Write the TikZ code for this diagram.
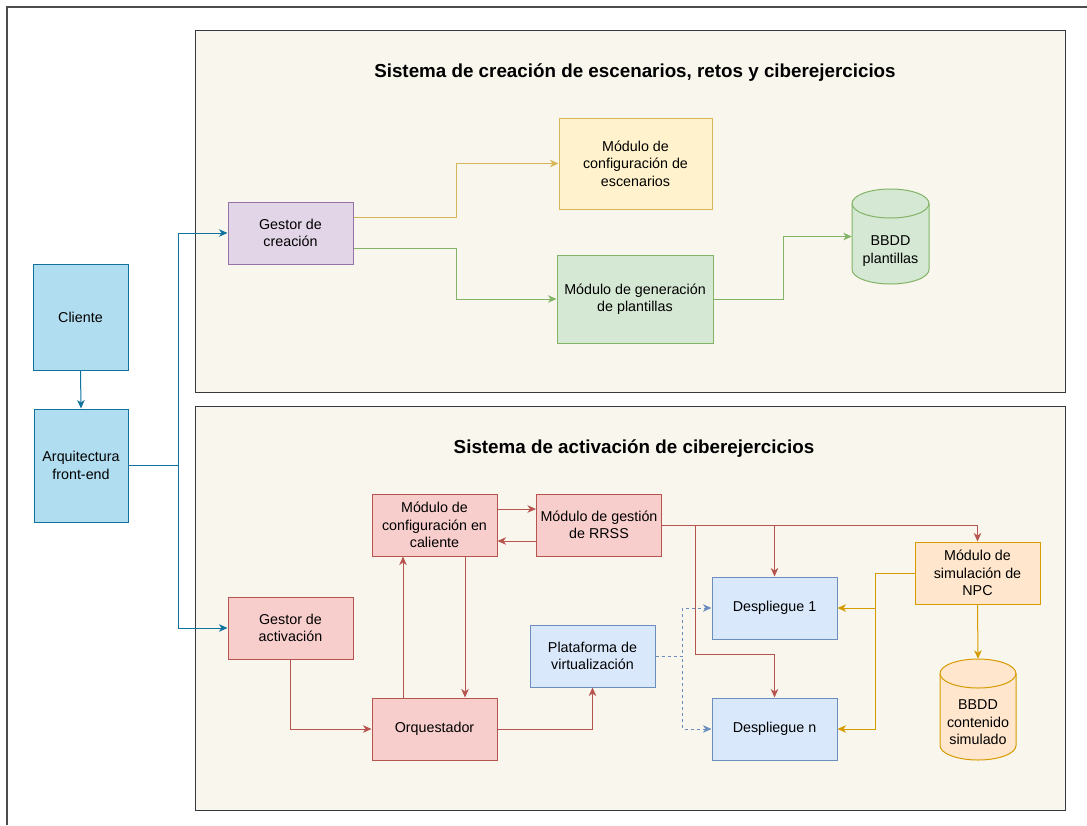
\documentclass[tikz,border=0pt]{standalone}
\usepackage{fontspec}
\setmainfont{Liberation Sans}
\usetikzlibrary{arrows.meta,calc}
\definecolor{panelfill}{HTML}{F9F7ED}
\definecolor{panelline}{HTML}{36393D}
\definecolor{bluefill}{HTML}{B1DDF0}
\definecolor{blueline}{HTML}{10739E}
\definecolor{purplefill}{HTML}{E1D5E7}
\definecolor{purpleline}{HTML}{9673A6}
\definecolor{yellowfill}{HTML}{FFF2CC}
\definecolor{yellowline}{HTML}{D6B656}
\definecolor{greenfill}{HTML}{D5E8D4}
\definecolor{greenline}{HTML}{82B366}
\definecolor{redfill}{HTML}{F8CECC}
\definecolor{redline}{HTML}{B85450}
\definecolor{lbluefill}{HTML}{DAE8FC}
\definecolor{lblueline}{HTML}{6C8EBF}
\definecolor{orangefill}{HTML}{FFE6CC}
\definecolor{orangeline}{HTML}{D79B00}
\tikzset{
  box/.style={draw, line width=1pt, align=center, inner sep=0pt,
    font=\fontsize{14.3}{17.5}\selectfont},
  cylbox/.style={inner sep=0pt},
  cyltext/.style={inner sep=0pt, align=center, font=\fontsize{14.3}{17.5}\selectfont},
  conn/.style={line width=1pt, -{Stealth[length=8.5pt,width=7.5pt,inset=2.5pt]}},
  panel/.style={draw=panelline, fill=panelfill, line width=1pt},
  title/.style={font=\fontsize{18.8}{22}\selectfont\bfseries}
}
\begin{document}
\begin{tikzpicture}[x=1pt,y=-1pt]
\useasboundingbox (0,0) rectangle (1087,825);
% outer frame (clipped)
\draw[line width=1.3pt, draw=black!70] (7,825) -- (7,7) -- (1087,7);
% panels
\draw[panel] (195,30) rectangle (1065,392);
\draw[panel] (195,406) rectangle (1065,810);
\node[title] (t1) at (635,73) {Sistema de creación de escenarios, retos y ciberejercicios};
\node[title] (t2) at (634,449) {Sistema de activación de ciberejercicios};

% left nodes
\node[box, fill=bluefill, draw=blueline, minimum width=95, minimum height=106] (cli) at (80.5,317) {Cliente};
\node[box, fill=bluefill, draw=blueline, minimum width=94, minimum height=113] (arq) at (81,465.5) {Arquitectura\\front-end};

% top panel
\node[box, fill=purplefill, draw=purpleline, minimum width=125, minimum height=62] (gcre) at (290.5,233) {Gestor de\\creación};
\node[box, fill=yellowfill, draw=yellowline, minimum width=153, minimum height=91] (mesc) at (635.5,163.5) {Módulo de\\configuración de\\escenarios};
\node[box, fill=greenfill, draw=greenline, minimum width=156, minimum height=88] (mgen) at (635,299) {Módulo de generación\\de plantillas};
% cylinder 1
\path[fill=greenfill, draw=greenline, line width=1pt]
  (852,203.5) -- (852,269.5) arc[start angle=180,end angle=360,x radius=38.5pt,y radius=14.5pt]
  -- (929,203.5) arc[start angle=0,end angle=180,x radius=38.5pt,y radius=14.5pt] -- cycle;
\draw[greenline, line width=1pt] (852,203.5) arc[start angle=180,end angle=360,x radius=38.5pt,y radius=14.5pt];
\node[cylbox, minimum width=77, minimum height=95] (bd1) at (890.5,236.5) {};
\node[cyltext] (bd1t) at (890.5,251) {BBDD\\plantillas};

% bottom panel
\node[box, fill=redfill, draw=redline, minimum width=125, minimum height=62] (gact) at (290.5,628) {Gestor de\\activación};
\node[box, fill=redfill, draw=redline, minimum width=125, minimum height=62] (orq) at (434.5,729) {Orquestador};
\node[box, fill=redfill, draw=redline, minimum width=125, minimum height=62] (mcal) at (434.5,525) {Módulo de\\configuración en\\caliente};
\node[box, fill=redfill, draw=redline, minimum width=125, minimum height=62] (rrss) at (599,525) {Módulo de gestión\\de RRSS};
\node[box, fill=lbluefill, draw=lblueline, minimum width=125, minimum height=62] (plat) at (592.5,656) {Plataforma de\\virtualización};
\node[box, fill=lbluefill, draw=lblueline, minimum width=125, minimum height=62] (d1) at (774.5,608) {Despliegue 1};
\node[box, fill=lbluefill, draw=lblueline, minimum width=125, minimum height=62] (dn) at (774.5,729) {Despliegue n};
\node[box, fill=orangefill, draw=orangeline, minimum width=125, minimum height=62] (npc) at (977.5,573) {Módulo de\\simulación de\\NPC};
% cylinder 2
\path[fill=orangefill, draw=orangeline, line width=1pt]
  (940,673.5) -- (940,745.5) arc[start angle=180,end angle=360,x radius=38pt,y radius=14.5pt]
  -- (1016,673.5) arc[start angle=0,end angle=180,x radius=38pt,y radius=14.5pt] -- cycle;
\draw[orangeline, line width=1pt] (940,673.5) arc[start angle=180,end angle=360,x radius=38pt,y radius=14.5pt];
\node[cylbox, minimum width=76, minimum height=101] (bd2) at (978,709.5) {};
\node[cyltext] (bd2t) at (978,722.5) {BBDD\\contenido\\simulado};

% connectors: blue
\draw[conn, blueline] (cli.south) -- (arq.north);
\draw[conn, blueline] (arq.east) -- ++(50,0) |- (gcre.west);
\draw[conn, blueline] (arq.east) -- ++(50,0) |- (gact.west);
% top
\draw[conn, yellowline] ($(gcre.east)+(0,16pt)$) -- ++(103,0) |- (mesc.west);
\draw[conn, greenline] ($(gcre.east)+(0,-15pt)$) -- ++(103,0) |- (mgen.west);
\draw[conn, greenline] (mgen.east) -- ++(70,0) |- (bd1.west);
% bottom red
\draw[conn, redline] (gact.south) |- (orq.west);
\draw[conn, redline] ($(orq.north)+(-31.5pt,0)$) -- ($(mcal.south)+(-31.5pt,0)$);
\draw[conn, redline] ($(mcal.south)+(30.5pt,0)$) -- ($(orq.north)+(30.5pt,0)$);
\draw[conn, redline] ($(mcal.east)+(0,16pt)$) -- ($(rrss.west)+(0,16pt)$);
\draw[conn, redline] ($(rrss.west)+(0,-16pt)$) -- ($(mcal.east)+(0,-16pt)$);
\draw[conn, redline] (orq.east) -| (plat.south);
\draw[conn, redline] (rrss.east) -| (d1.north);
\draw[conn, redline] (rrss.east) -| (npc.north);
\draw[conn, redline] (rrss.east) -- ++(33,0) -- ++(0,129) -| (dn.north);
% dashed blue
\draw[conn, lblueline, dashed] (plat.east) -- ++(27,0) |- (d1.west);
\draw[conn, lblueline, dashed] (plat.east) -- ++(27,0) |- (dn.west);
% orange
\draw[conn, orangeline] (npc.west) -- ++(-39,0) |- (d1.east);
\draw[conn, orangeline] (npc.west) -- ++(-39,0) |- (dn.east);
\draw[conn, orangeline] (npc.south) -- (bd2.north);
\end{tikzpicture}
\end{document}
